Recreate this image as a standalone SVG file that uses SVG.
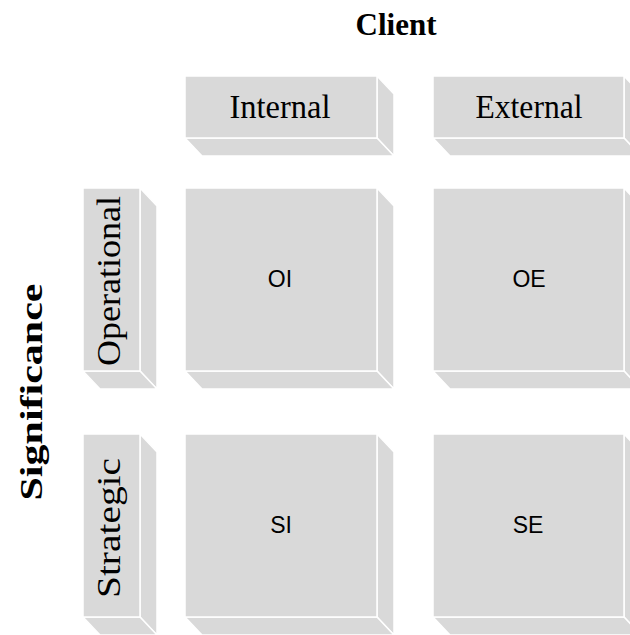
<svg xmlns="http://www.w3.org/2000/svg" width="630" height="635" viewBox="0 0 630 635">
  <style>
    .face { fill: #d9d9d9; stroke: #ffffff; stroke-width: 1.5; stroke-linejoin: miter; }
    .head { font-family: "Liberation Serif", "Times New Roman", serif; font-size: 34px; fill: #000; text-anchor: middle; }
    .axis { font-family: "Liberation Serif", "Times New Roman", serif; font-size: 31px; font-weight: bold; fill: #000; text-anchor: middle; }
    .cell { font-family: "Liberation Sans", Arial, sans-serif; font-size: 23px; fill: #000; text-anchor: middle; }
  </style>
  <rect width="630" height="635" fill="#ffffff"/>

  <!-- axis titles -->
  <text id="title-client" class="axis" x="396" y="35">Client</text>
  <text id="title-significance" class="axis" transform="translate(42,392) rotate(-90)" textLength="217" lengthAdjust="spacingAndGlyphs">Significance</text>

  <!-- column headers -->
  <g id="internal">
    <polygon class="face" points="377,76 394,94 394,156 377,138"/>
    <polygon class="face" points="185,138 377,138 394,156 202,156"/>
    <rect class="face" x="185" y="76" width="192" height="62"/>
    <text class="head" x="280" y="118" textLength="101" lengthAdjust="spacingAndGlyphs">Internal</text>
  </g>
  <g id="external">
    <polygon class="face" points="624,76 641,94 641,156 624,138"/>
    <polygon class="face" points="433,138 624,138 641,156 450,156"/>
    <rect class="face" x="433" y="76" width="191" height="62"/>
    <text class="head" x="529" y="118" textLength="107" lengthAdjust="spacingAndGlyphs">External</text>
  </g>

  <!-- row headers -->
  <g id="operational">
    <polygon class="face" points="140,188 157,206 157,389 140,371"/>
    <polygon class="face" points="83,371 140,371 157,389 100,389"/>
    <rect class="face" x="83" y="188" width="57" height="183"/>
    <text class="head" transform="translate(120,281) rotate(-90)" textLength="170" lengthAdjust="spacingAndGlyphs">Operational</text>
  </g>
  <g id="strategic">
    <polygon class="face" points="140,434 157,452 157,635 140,617"/>
    <polygon class="face" points="83,617 140,617 157,635 100,635"/>
    <rect class="face" x="83" y="434" width="57" height="183"/>
    <text class="head" transform="translate(120,528) rotate(-90)" textLength="140" lengthAdjust="spacingAndGlyphs">Strategic</text>
  </g>

  <!-- matrix cells -->
  <g id="cell-oi">
    <polygon class="face" points="377,188 394,206 394,389 377,371"/>
    <polygon class="face" points="185,371 377,371 394,389 202,389"/>
    <rect class="face" x="185" y="188" width="192" height="183"/>
    <text class="cell" x="280" y="287">OI</text>
  </g>
  <g id="cell-oe">
    <polygon class="face" points="624,188 641,206 641,389 624,371"/>
    <polygon class="face" points="433,371 624,371 641,389 450,389"/>
    <rect class="face" x="433" y="188" width="191" height="183"/>
    <text class="cell" x="529" y="287">OE</text>
  </g>
  <g id="cell-si">
    <polygon class="face" points="377,434 394,452 394,635 377,617"/>
    <polygon class="face" points="185,617 377,617 394,635 202,635"/>
    <rect class="face" x="185" y="434" width="192" height="183"/>
    <text class="cell" x="281" y="533">SI</text>
  </g>
  <g id="cell-se">
    <polygon class="face" points="624,434 641,452 641,635 624,617"/>
    <polygon class="face" points="433,617 624,617 641,635 450,635"/>
    <rect class="face" x="433" y="434" width="191" height="183"/>
    <text class="cell" x="528" y="533">SE</text>
  </g>
</svg>
